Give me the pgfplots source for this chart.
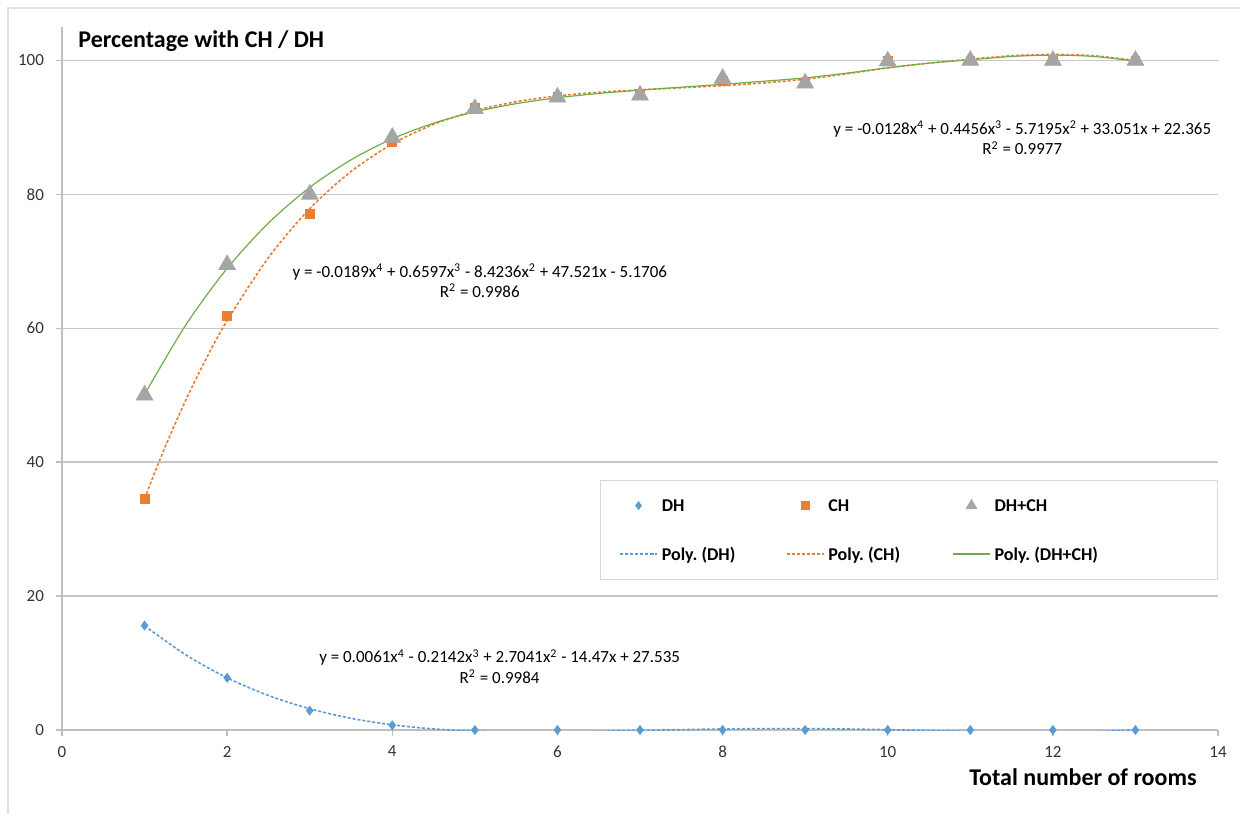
\documentclass[border=0pt]{standalone}
\usepackage{pgfplots}
\pgfplotsset{compat=1.18}
\usepackage{fontspec}
\setmainfont{Carlito}
\definecolor{dhblue}{HTML}{5B9BD5}
\definecolor{chorange}{HTML}{ED7D31}
\definecolor{sumgray}{HTML}{A5A5A5}
\definecolor{trgreen}{HTML}{70AD47}
\begin{document}
\begin{tikzpicture}
\useasboundingbox (-31pt,-42pt) rectangle (589pt,365pt);
\draw[black!12, line width=0.6pt] (-27pt,-42pt) -- (-27pt,361pt) -- (589pt,361pt);
\begin{axis}[
  at={(0pt,0pt)}, anchor=south west,
  scale only axis, width=578pt, height=351.5pt,
  xmin=0, xmax=14, ymin=0, ymax=105,
  xtick={0,2,...,14}, ytick={0,20,...,100},
  axis x line=bottom, axis y line=left,
  axis line style={-, black!25, line width=0.7pt},
  tick style={black!25, line width=0.7pt},
  tick align=outside, major tick length=3pt,
  ymajorgrids, grid style={black!22, line width=0.7pt},
  /pgf/number format/assume math mode=true,
  ticklabel style={font=\fontsize{8.5}{10}\selectfont, text=black!80},
  yticklabel style={xshift=-2.5pt},
  xticklabel style={yshift=-1.5pt},
  xlabel={Total number of rooms},
  x label style={at={(axis description cs:1,0)}, anchor=base east, xshift=-10.5pt, yshift=-27.5pt, inner sep=0pt, font=\fontsize{12}{14}\selectfont\bfseries},
  legend columns=3,
  legend cell align=left,
  legend style={at={(rel axis cs:1,0.3556)}, anchor=north east, draw=black!15, fill=white, font=\fontsize{9}{11}\selectfont\bfseries, inner xsep=9.5pt, inner ysep=6pt, row sep=11pt},
  legend image code/.code={\draw[mark repeat=2,mark phase=2,#1] plot coordinates {(0pt,0pt) (9.25pt,0pt) (18.5pt,0pt)};},
]
% data points
\addplot[only marks, mark=diamond*, mark size=2.2pt, color=dhblue, legend image post style={mark size=1.9pt}] coordinates {
(1,15.6)(2,7.8)(3,2.9)(4,0.7)(5,0)(6,0)(7,0)(8,0)(9,0)(10,0)(11,0)(12,0)(13,0)};
\addlegendentry{\makebox[60pt][l]{DH\strut}}
\addplot[only marks, mark=square*, mark size=2.2pt, color=chorange, legend image post style={mark size=2pt}] coordinates {
(1,34.5)(2,61.8)(3,77.1)(4,87.8)(5,93.0)(6,94.5)(7,95.0)(8,97.0)(9,96.6)(10,100)(11,100)(12,100)(13,100)};
\addlegendentry{\makebox[60pt][l]{CH\strut}}
\addplot[only marks, mark=triangle*, mark size=4.8pt, color=sumgray, legend image post style={mark size=3pt}] coordinates {
(1,50)(2,69.5)(3,80)(4,88.5)(5,92.8)(6,94.5)(7,94.8)(8,97.3)(9,96.6)(10,99.9)(11,100)(12,100)(13,100)};
\addlegendentry{\makebox[100pt][l]{DH+CH\strut}}
% trend lines
\addplot[no marks, smooth, color=dhblue, line width=0.8pt, dash pattern=on 1.5pt off 1pt] coordinates {
(1,15.561)(1.5,11.222)(2,7.795)(2.5,5.152)(3,3.173)(3.5,1.747)(4,0.773)(4.5,0.160)(5,-0.175)(5.5,-0.307)(6,-0.299)(6.5,-0.208)(7,-0.079)(7.5,0.051)(8,0.153)(8.5,0.208)(9,0.207)(9.5,0.150)(10,0.045)(10.5,-0.090)(11,-0.229)(11.5,-0.335)(12,-0.363)(12.5,-0.258)(13,0.043)};
\addlegendentry{\makebox[60pt][l]{Poly.\ (DH)\strut}}
\addplot[no marks, smooth, color=chorange, line width=0.8pt, dash pattern=on 1.5pt off 1pt] coordinates {
(1,34.57)(1.25,42.31)(1.5,49.29)(1.75,55.55)(2,61.15)(2.5,70.55)(3,77.86)(3.5,83.41)(4,87.52)(4.5,90.46)(5,92.49)(5.5,93.84)(6,94.71)(6.5,95.25)(7,95.62)(7.5,95.92)(8,96.24)(8.5,96.65)(9,97.2)(9.5,98.0)(10,98.9)(10.5,99.6)(11,100.2)(11.5,100.7)(12,100.9)(12.5,100.7)(13,100.0)};
\addlegendentry{\makebox[60pt][l]{Poly.\ (CH)\strut}}
\addplot[no marks, smooth, color=trgreen, line width=0.6pt] coordinates {
(1,50.13)(1.5,60.51)(2,68.95)(2.5,75.71)(3,81.04)(3.5,85.16)(4,88.30)(4.5,90.63)(5,92.33)(5.5,93.55)(6,94.43)(6.5,95.07)(7,95.57)(7.5,96.01)(8,96.44)(8.5,96.9)(9,97.4)(9.5,98.1)(10,98.9)(10.5,99.6)(11,100.1)(11.5,100.6)(12,100.8)(12.5,100.6)(13,99.9)};
\addlegendentry{\makebox[100pt][l]{Poly.\ (DH+CH)\strut}}
% annotations
\node[anchor=base west, inner sep=0pt, font=\fontsize{12}{14}\selectfont\bfseries] at (axis cs:0.194,101.94) {Percentage with CH / DH};
\node[align=center, inner sep=0pt, font=\fontsize{8.5}{10.2}\selectfont] at (axis cs:11.63,88.4) {y = -0.0128x\textsuperscript{4} + 0.4456x\textsuperscript{3} - 5.7195x\textsuperscript{2} + 33.051x + 22.365\\R\textsuperscript{2} = 0.9977};
\node[align=center, inner sep=0pt, font=\fontsize{8.5}{10.2}\selectfont] at (axis cs:5.06,67.1) {y = -0.0189x\textsuperscript{4} + 0.6597x\textsuperscript{3} - 8.4236x\textsuperscript{2} + 47.521x - 5.1706\\R\textsuperscript{2} = 0.9986};
\node[align=center, inner sep=0pt, font=\fontsize{8.5}{10.2}\selectfont] at (axis cs:5.30,9.48) {y = 0.0061x\textsuperscript{4} - 0.2142x\textsuperscript{3} + 2.7041x\textsuperscript{2} - 14.47x + 27.535\\R\textsuperscript{2} = 0.9984};
\end{axis}
\end{tikzpicture}
\end{document}
